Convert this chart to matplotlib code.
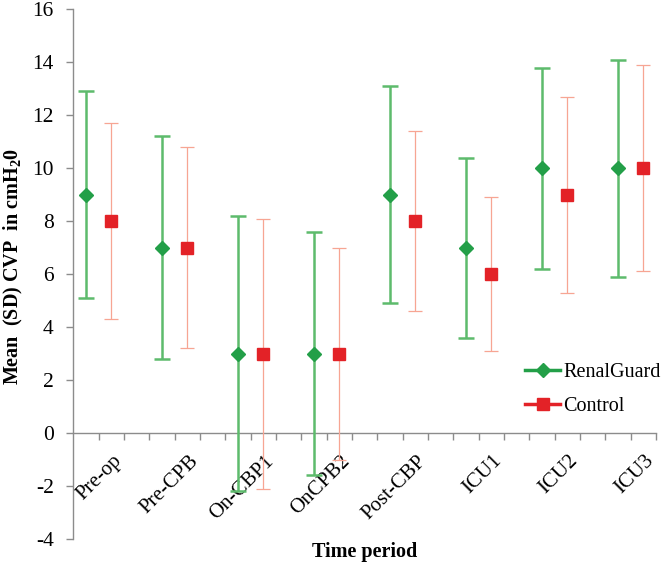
import matplotlib
matplotlib.use("Agg")
import matplotlib.pyplot as plt
from matplotlib.lines import Line2D
import numpy as np

plt.rcParams['font.family'] = ['Liberation Serif', 'DejaVu Serif']
plt.rcParams['axes.unicode_minus'] = False
plt.rcParams['mathtext.fontset'] = 'custom'
plt.rcParams['mathtext.rm'] = 'Liberation Serif'
plt.rcParams['mathtext.bf'] = 'Liberation Serif:bold'

periods = ["Pre-op", "Pre-CPB", "On-CBP1", "OnCPB2", "Post-CBP", "ICU1", "ICU2", "ICU3"]
renal_mean = [9, 7, 3, 3, 9, 7, 10, 10]
renal_upper = [12.9, 11.2, 8.2, 7.6, 13.1, 10.4, 13.8, 14.1]
renal_lower = [5.1, 2.8, -2.2, -1.6, 4.9, 3.6, 6.2, 5.9]
control_mean = [8, 7, 3, 3, 8, 6, 9, 10]
control_upper = [11.7, 10.8, 8.1, 7.0, 11.4, 8.9, 12.7, 13.9]
control_lower = [4.3, 3.2, -2.1, -1.0, 4.6, 3.1, 5.3, 6.1]
y_ticks = [-4, -2, 0, 2, 4, 6, 8, 10, 12, 14, 16]

green_bar = '#5dbb6c'
green_mk = '#239f48'
red_bar = '#f7a593'
red_mk = '#e32227'
axis_gray = '#8c8c8c'

n = len(periods)
idx = np.arange(n)
xg = 3 * idx + 1
xr = 3 * idx + 2

rm = np.array(renal_mean, float)
ru = np.array(renal_upper, float)
rl = np.array(renal_lower, float)
cm = np.array(control_mean, float)
cu = np.array(control_upper, float)
cl = np.array(control_lower, float)

fig = plt.figure(figsize=(6.66, 5.69), dpi=100)
ax = fig.add_axes([0.11, 0.0527, 0.875, 0.931])

ax.errorbar(xg, rm, yerr=[rm - rl, ru - rm], fmt='none', ecolor=green_bar,
            elinewidth=1.8, capsize=5.5, capthick=1.8, zorder=3)
ax.errorbar(xr, cm, yerr=[cm - cl, cu - cm], fmt='none', ecolor=red_bar,
            elinewidth=0.9, capsize=5, capthick=0.9, zorder=3)
ax.plot(xg, rm, linestyle='none', marker='D', markersize=7, color=green_mk, zorder=4)
ax.plot(xr, cm, linestyle='none', marker='s', markersize=9.2, color=red_mk, zorder=4)

ax.set_xlim(0.5, 3 * n - 0.5)
ax.set_ylim(-4, 16)
ax.set_yticks(y_ticks)
ax.set_yticklabels([str(t) for t in y_ticks])
ax.set_xticks(np.arange(1.5, 3 * n - 0.4, 1.0))
ax.set_xticklabels([])

for s in ['top', 'right']:
    ax.spines[s].set_visible(False)
ax.spines['left'].set_color(axis_gray)
ax.spines['bottom'].set_color(axis_gray)
ax.spines['bottom'].set_position(('data', 0))
ax.spines['left'].set_linewidth(1.0)
ax.spines['bottom'].set_linewidth(1.0)
ax.tick_params(axis='both', colors=axis_gray, direction='out', length=5, width=1.0)
ax.tick_params(axis='y', labelcolor='black', labelsize=15.5, pad=9)

for i, lab in enumerate(periods):
    ax.text(xr[i] + 0.05, -0.7, lab, rotation=45, rotation_mode='anchor',
            ha='right', va='top', fontsize=15, color='black', zorder=2)

ax.set_ylabel('Mean  (SD) CVP  in cmH$_\\mathbf{2}$0', fontsize=14.5, fontweight='bold')
ax.yaxis.set_label_coords(-0.082, 0.515)
ax.set_xlabel('Time period', fontsize=14.5, fontweight='bold')
ax.xaxis.set_label_coords(0.5, -0.005)

handles = [
    Line2D([0], [0], color=green_mk, lw=2.5, marker='D', markersize=7, markerfacecolor=green_mk),
    Line2D([0], [0], color=red_mk, lw=2.5, marker='s', markersize=9.2, markerfacecolor=red_mk),
]
leg = ax.legend(handles, ['RenalGuard', 'Control'], loc='upper left',
                bbox_to_anchor=(525 / 666, 1 - 363 / 569), bbox_transform=fig.transFigure,
                frameon=False, fontsize=14.5, handlelength=1.75, handletextpad=0.15,
                labelspacing=0.75, borderaxespad=0, borderpad=0)

fig.savefig('out.png', dpi=100)
